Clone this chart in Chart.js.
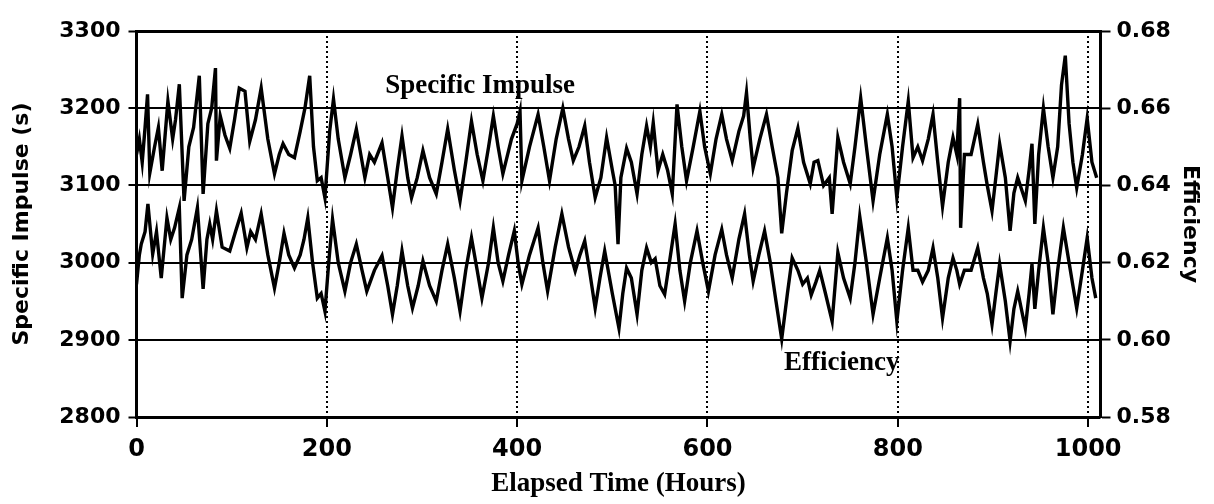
<!DOCTYPE html>
<html>
<head>
<meta charset="utf-8">
<script src="https://cdn.jsdelivr.net/npm/chart.js@4.4.1/dist/chart.umd.min.js"></script>
<style>
  html, body { margin: 0; padding: 0; background: #fff; }
  #wrap { width: 1214px; height: 504px; }
</style>
</head>
<body>
<div id="wrap"><canvas id="c" width="1214" height="504"></canvas></div>
<script>
// ---- Data ----
const ispHours = [
  0,3,6,9,11.6,14,19,23,27,33,
  38,41,45,50,55,60,66,70,75,79,
  83,84,88,93,98,103,108,114,119,125,
  131,138,145,150,154,160,166,172,177,182,
  186,190,194,198,203,207,212,219,225,231,
  240,245,250,258,264,269,274,279,285,289,
  295,301,308,315,321,327,334,340,346,352,
  358,364,370,375,380,385,394,400,403,405,
  413,422,428,434,441,448,454,459,465,471,
  476,482,488,494,500,503,506,509,515,520,
  526,531,536,540,543,548,553,558,563,568,
  573,578,585,592,597,603,609,615,620,626,
  633,638,641,645,648,655,662,668,674,678,
  683,689,695,701,708,712,716,722,728,731,
  737,743,750,755,761,767,774,781,789,794,
  799,805,811,816,821,826,832,837,842,847,
  853,858,862,865,866,870,877,884,890,894,
  899,903,907,913,918,922,926,934,938,941,
  944,948,953,958,963,968,972,976,980,984,
  988,994,999,1004,1009
];
const ispValues = [
  3140,3160,3130,3175,3218,3116,3150,3175,3119,3209,
  3160,3185,3231,3080,3150,3175,3242,3089,3180,3200,
  3252,3132,3190,3165,3148,3185,3226,3222,3157,3185,
  3226,3160,3115,3140,3154,3140,3136,3170,3200,3242,
  3150,3106,3110,3084,3170,3212,3160,3110,3140,3173,
  3110,3140,3130,3155,3110,3071,3120,3164,3110,3084,
  3110,3145,3110,3089,3130,3173,3120,3080,3130,3183,
  3140,3106,3150,3190,3150,3115,3160,3180,3196,3106,
  3150,3192,3150,3106,3160,3200,3160,3132,3150,3177,
  3130,3084,3110,3162,3120,3100,3024,3110,3148,3130,
  3089,3140,3177,3150,3181,3119,3140,3120,3089,3205,
  3150,3106,3150,3196,3150,3115,3160,3192,3160,3132,
  3170,3190,3220,3160,3123,3160,3192,3150,3110,3038,
  3090,3145,3174,3130,3102,3130,3132,3100,3110,3063,
  3162,3130,3102,3150,3213,3150,3080,3140,3192,3150,
  3084,3150,3209,3136,3150,3132,3160,3192,3130,3073,
  3130,3162,3140,3213,3045,3140,3140,3179,3130,3100,
  3067,3110,3154,3110,3041,3090,3110,3080,3120,3154,
  3050,3140,3200,3150,3110,3150,3230,3268,3180,3130,
  3097,3140,3187,3130,3110
];
const effHours = [
  0,3,5,9,12,17,21,26,32,36,
  40,45,48,53,58,64,70,74,77,80,
  84,90,98,104,110,116,120,125,131,138,
  145,150,155,160,166,172,176,180,185,190,
  194,198,202,206,212,219,225,231,237,242,
  250,258,264,269,274,279,285,290,296,301,
  308,315,321,327,334,340,346,352,358,363,
  370,375,380,385,391,397,401,405,413,422,
  427,432,440,447,454,461,466,471,476,482,
  487,492,500,507,511,515,520,526,531,536,
  541,545,550,555,560,566,571,576,582,589,
  595,601,608,615,620,626,633,639,644,648,
  654,660,666,672,678,684,689,695,700,705,
  709,714,718,724,731,737,743,750,755,760,
  767,774,781,789,794,799,805,811,816,821,
  826,832,837,842,847,853,858,862,865,870,
  877,884,890,894,899,903,907,913,918,922,
  926,934,938,941,944,948,953,958,963,968,
  974,980,984,988,994,999,1004,1008
];
const effValues = [
  0.6144,0.622,0.6248,0.628,0.6352,0.6222,0.628,0.616,0.6316,0.626,
  0.629,0.6342,0.6108,0.622,0.626,0.6342,0.6132,0.626,0.630,0.626,
  0.6334,0.624,0.623,0.628,0.6328,0.6238,0.628,0.626,0.6326,0.622,
  0.6134,0.620,0.6276,0.622,0.6186,0.622,0.626,0.6316,0.620,0.6108,
  0.612,0.6074,0.620,0.6312,0.620,0.6126,0.620,0.6248,0.618,0.6126,
  0.618,0.6218,0.614,0.6066,0.614,0.623,0.614,0.6082,0.614,0.6204,
  0.614,0.610,0.618,0.6248,0.616,0.6074,0.618,0.6264,0.618,0.6108,
  0.620,0.629,0.620,0.6152,0.622,0.6282,0.620,0.6144,0.622,0.629,
  0.620,0.6126,0.624,0.6326,0.624,0.6178,0.622,0.6256,0.618,0.6082,
  0.616,0.623,0.612,0.603,0.612,0.6186,0.616,0.6066,0.618,0.6238,
  0.620,0.621,0.614,0.6118,0.620,0.630,0.618,0.610,0.620,0.6282,
  0.620,0.6126,0.622,0.6286,0.622,0.616,0.626,0.6326,0.622,0.6152,
  0.622,0.6282,0.620,0.610,0.6002,0.612,0.6212,0.618,0.6144,0.616,
  0.6116,0.615,0.618,0.612,0.6048,0.6226,0.616,0.6108,0.620,0.632,
  0.620,0.6066,0.616,0.6264,0.618,0.6048,0.618,0.629,0.618,0.618,
  0.615,0.618,0.6238,0.616,0.6056,0.616,0.6212,0.618,0.6144,0.618,
  0.618,0.6238,0.616,0.612,0.604,0.612,0.6196,0.610,0.5996,0.608,
  0.6126,0.603,0.612,0.6196,0.608,0.618,0.629,0.620,0.6066,0.618,
  0.629,0.620,0.614,0.6082,0.618,0.6264,0.616,0.6108
];
const xTicks = [0, 200, 400, 600, 800, 1000];
const ispTicks = [2800, 2900, 3000, 3100, 3200, 3300];
const effTicks = [0.58, 0.60, 0.62, 0.64, 0.66, 0.68];
const seriesLabels = ['Specific Impulse', 'Efficiency'];

// ---- Build chart ----
const ispData = ispHours.map((h, i) => ({ x: h, y: ispValues[i] }));
const effData = effHours.map((h, i) => ({ x: h, y: effValues[i] }));
const setTicks = (list) => (scale) => { scale.ticks = list.map(v => ({ value: v })); };

const tickFont = { family: 'DejaVu Sans', weight: 'bold', size: 22 };
const xTickFont = { family: 'DejaVu Sans', weight: 'bold', size: 24 };
const titleFont = { family: 'DejaVu Sans', weight: 'bold', size: 22 };

const labelPlugin = {
  id: 'seriesLabels',
  afterDatasetsDraw(chart) {
    const ctx = chart.ctx;
    const xs = chart.scales.x, ys = chart.scales.y;
    ctx.save();
    ctx.fillStyle = '#000';
    ctx.font = 'bold 27px "Liberation Serif"';
    ctx.textAlign = 'center';
    ctx.textBaseline = 'middle';
    ctx.fillText(seriesLabels[0], xs.getPixelForValue(361), ys.getPixelForValue(3229));
    ctx.fillText(seriesLabels[1], xs.getPixelForValue(741), ys.getPixelForValue(2870));
    ctx.restore();
  }
};

new Chart(document.getElementById('c'), {
  type: 'line',
  data: {
    datasets: [
      { label: seriesLabels[0], data: ispData, yAxisID: 'y', borderColor: '#000', borderWidth: 3.4,
        pointRadius: 0, tension: 0, fill: false },
      { label: seriesLabels[1], data: effData, yAxisID: 'y2', borderColor: '#000', borderWidth: 3.4,
        pointRadius: 0, tension: 0, fill: false }
    ]
  },
  options: {
    responsive: false,
    animation: false,
    devicePixelRatio: 1,
    layout: { padding: { top: 31, left: 0, right: 0, bottom: 0 } },
    plugins: { legend: { display: false }, tooltip: { enabled: false } },
    scales: {
      x: {
        type: 'linear', min: 0, max: 1013,
        afterBuildTicks: setTicks(xTicks),
        ticks: { font: xTickFont, color: '#000', padding: 8, maxRotation: 0, autoSkip: false,
          callback: (v) => String(v) },
        grid: {
          color: '#000',
          lineWidth: (c) => (c.tick && c.tick.value === 0) ? 0 : 2,
          tickLength: 10, tickColor: '#000', tickWidth: 2, tickBorderDash: []
        },
        border: { display: false, dash: [2, 3] },
        title: { display: true, text: 'Elapsed Time (Hours)', color: '#000',
          font: { family: 'Liberation Serif', weight: 'bold', size: 27 }, padding: { top: 0, bottom: 4 } },
        afterFit: (s) => { s.height = 87; }
      },
      y: {
        position: 'left', min: 2800, max: 3300,
        afterBuildTicks: setTicks(ispTicks),
        ticks: { font: tickFont, color: '#000', padding: 8, autoSkip: false, callback: (v) => String(v) },
        grid: {
          color: '#000',
          lineWidth: (c) => (c.tick && (c.tick.value === 3300 || c.tick.value === 2800)) ? 3 : 2,
          tickLength: 8, tickColor: '#000', tickWidth: 2
        },
        border: { display: true, color: '#000', width: 3 },
        title: { display: true, text: 'Specific Impulse (s)', color: '#000', font: titleFont, padding: { top: 9, bottom: 0 } },
        afterFit: (s) => { s.width = 136.5; }
      },
      y2: {
        position: 'right', min: 0.58, max: 0.68,
        afterBuildTicks: setTicks(effTicks),
        ticks: { font: tickFont, color: '#000', padding: 6, autoSkip: false,
          callback: (v) => Number(v).toFixed(2) },
        grid: { drawOnChartArea: false, color: '#000', tickLength: 10, tickWidth: 2 },
        border: { display: true, color: '#000', width: 3 },
        title: { display: true, text: 'Efficiency', color: '#000', font: titleFont, padding: { top: 11, bottom: 0 } },
        afterFit: (s) => { s.width = 113.5; }
      }
    }
  },
  plugins: [labelPlugin]
});
</script>
</body>
</html>
